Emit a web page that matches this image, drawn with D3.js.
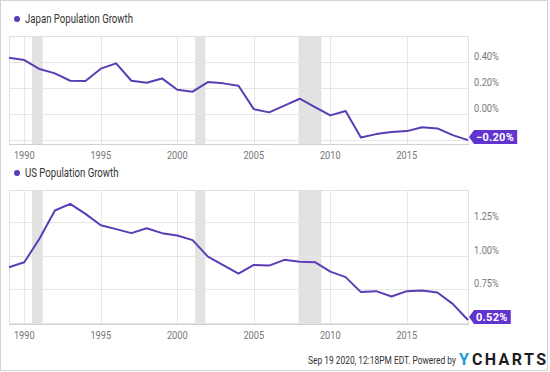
<!DOCTYPE html>
<html>
<head>
<meta charset="utf-8">
<script src="https://cdn.jsdelivr.net/npm/d3@7"></script>
<style>
	body { margin: 0; background: #fff; }
	text { font-family: Roboto, 'Noto Sans', sans-serif; }
</style>
</head>
<body>
<script>
// Data (annual population growth, %)
const years = [1989, 1990, 1991, 1992, 1993, 1994, 1995, 1996, 1997, 1998, 1999, 2000, 2001, 2002, 2003, 2004,
	2005, 2006, 2007, 2008, 2009, 2010, 2011, 2012, 2013, 2014, 2015, 2016, 2017, 2018, 2019]
const japanGrowth = [0.433, 0.415, 0.346, 0.313, 0.256, 0.254, 0.349, 0.39, 0.256, 0.241, 0.274, 0.187, 0.172,
	0.246, 0.236, 0.218, 0.038, 0.013, 0.065, 0.118, 0.054, -0.01, 0.023, -0.18, -0.154, -0.138, -0.131, -0.102,
	-0.11, -0.162, -0.2]
const usGrowth = [0.914, 0.951, 1.128, 1.337, 1.387, 1.312, 1.227, 1.198, 1.168, 1.205, 1.168, 1.15, 1.116,
	0.993, 0.929, 0.866, 0.931, 0.926, 0.969, 0.954, 0.951, 0.881, 0.84, 0.728, 0.735, 0.695, 0.735, 0.74, 0.725,
	0.64, 0.52]
const recessions = [[1990.5, 1991.2], [2001.17, 2001.83], [2007.92, 2009.42]]
const yearTicks = [1990, 1995, 2000, 2005, 2010, 2015]
const japanGrid = [-0.2, 0, 0.2, 0.4]
const japanLabels = [0, 0.2, 0.4]
const usGrid = [0.5, 0.75, 1, 1.25]
const usLabels = [0.75, 1, 1.25]

const W = 550
const H = 372
const purple = '#5a3db5'
const tagColor = '#6134d0'

const svg = d3.select('body').append('svg').attr('width', W).attr('height', H)

// squeeze text horizontally (the chart uses a narrow face)
function squeeze(sel, k) {
	sel.each(function () {
		const w = this.getComputedTextLength()
		d3.select(this).attr('textLength', w * k).attr('lengthAdjust', 'spacingAndGlyphs')
	})
}

// outer frame
svg.append('rect')
	.attr('x', 0.5).attr('y', 0.5).attr('width', 547).attr('height', 370)
	.attr('fill', '#fff').attr('stroke', '#d4d4d4')

const xscale = d3.scaleLinear().domain([1989, 2019]).range([9, 468])

const panels = [
	{ title: 'Japan Population Growth', values: japanGrowth, top: 36, bottom: 144, domain: [-0.23, 0.6],
		grid: japanGrid, labels: japanLabels, fmt: d3.format('.2f'), titleY: 23 },
	{ title: 'US Population Growth', values: usGrowth, top: 190, bottom: 324, domain: [0.49, 1.49],
		grid: usGrid, labels: usLabels, fmt: d3.format('.2f'), titleY: 177 }
]

panels.forEach(p => drawPanel(p))

function drawPanel(p) {
	const yscale = d3.scaleLinear().domain(p.domain).range([p.bottom, p.top])
	const g = svg.append('g')
	const [x0, x1] = xscale.range()

	// title with dot
	g.append('circle').attr('cx', 17).attr('cy', p.titleY - 4).attr('r', 3).attr('fill', purple)
	g.append('text').attr('x', 25).attr('y', p.titleY)
		.attr('font-size', 12).attr('fill', '#333').text(p.title)
		.call(squeeze, 0.8)

	// recession bands
	g.selectAll('rect.rec').data(recessions).join('rect')
		.attr('class', 'rec')
		.attr('x', d => xscale(d[0]))
		.attr('width', d => xscale(d[1]) - xscale(d[0]))
		.attr('y', p.top).attr('height', p.bottom - p.top)
		.attr('fill', '#e2e2e2')

	// grid
	g.selectAll('line.hg').data(p.grid).join('line')
		.attr('class', 'hg')
		.attr('x1', x0).attr('x2', x1)
		.attr('y1', d => Math.round(yscale(d)) + 0.5).attr('y2', d => Math.round(yscale(d)) + 0.5)
		.attr('stroke', '#e6e6e6')
	g.selectAll('line.vg').data(yearTicks).join('line')
		.attr('class', 'vg')
		.attr('x1', d => Math.round(xscale(d)) + 0.5).attr('x2', d => Math.round(xscale(d)) + 0.5)
		.attr('y1', p.top).attr('y2', p.bottom)
		.attr('stroke', '#e6e6e6')

	// plot border
	g.append('rect')
		.attr('x', x0 + 0.5).attr('y', p.top + 0.5)
		.attr('width', x1 - x0).attr('height', p.bottom - p.top)
		.attr('fill', 'none').attr('stroke', '#e0e0e0')
	g.append('line')
		.attr('x1', x0).attr('x2', x1 + 1)
		.attr('y1', p.bottom + 0.5).attr('y2', p.bottom + 0.5)
		.attr('stroke', '#d0d0d0')

	// x labels
	g.selectAll('text.xl').data(yearTicks).join('text')
		.attr('class', 'xl')
		.attr('x', d => xscale(d)).attr('y', p.bottom + 15)
		.attr('text-anchor', 'middle').attr('font-size', 10.5).attr('fill', '#777')
		.text(d => d)
		.call(squeeze, 0.88)

	// y labels
	g.selectAll('text.yl').data(p.labels).join('text')
		.attr('class', 'yl')
		.attr('x', 474).attr('y', d => yscale(d) - 2)
		.attr('font-size', 10.5).attr('fill', '#777')
		.text(d => p.fmt(d) + '%')
		.call(squeeze, 0.88)

	// line
	const line = d3.line().x((d, i) => xscale(years[i])).y(d => yscale(d))
	g.append('path').datum(p.values)
		.attr('d', line)
		.attr('fill', 'none').attr('stroke', purple).attr('stroke-width', 2)
		.attr('stroke-linejoin', 'round')

	// last value tag
	const last = p.values[p.values.length - 1]
	const ty = Math.min(yscale(last), p.bottom - 7)
	const tag = g.append('g')
	const label = tag.append('text')
		.attr('x', x1 + 8).attr('y', ty + 4)
		.attr('font-size', 11).attr('font-weight', 'bold').attr('fill', '#fff')
		.attr('letter-spacing', 0.3)
		.text(p.fmt(last) + '%')
	const tw = label.node().getComputedTextLength()
	const bx = x1 + 6
	tag.insert('path', 'text')
		.attr('d', `M${x1 + 1},${ty} L${bx},${ty - 7} L${bx + tw + 5},${ty - 7} L${bx + tw + 5},${ty + 7} L${bx},${ty + 7} Z`)
		.attr('fill', tagColor)
}

// footer (narrow text via a horizontal scale)
svg.append('g').attr('transform', 'translate(308,364) scale(0.8,1)')
	.append('text')
	.attr('font-size', 10.5).attr('fill', '#333')
	.text('Sep 19 2020, 12:18PM EDT.  Powered by')
const logoY = svg.append('text').attr('x', 459).attr('y', 365)
	.attr('font-size', 16).attr('font-weight', 'bold').attr('fill', '#1c9ad6')
	.text('Y')
const yw = logoY.node().getComputedTextLength()
svg.append('text').attr('x', 459 + yw + 3).attr('y', 365)
	.attr('font-size', 16).attr('font-weight', 'bold').attr('fill', '#1d1d1d')
	.attr('letter-spacing', 2.4)
	.text('CHARTS')
</script>
</body>
</html>
